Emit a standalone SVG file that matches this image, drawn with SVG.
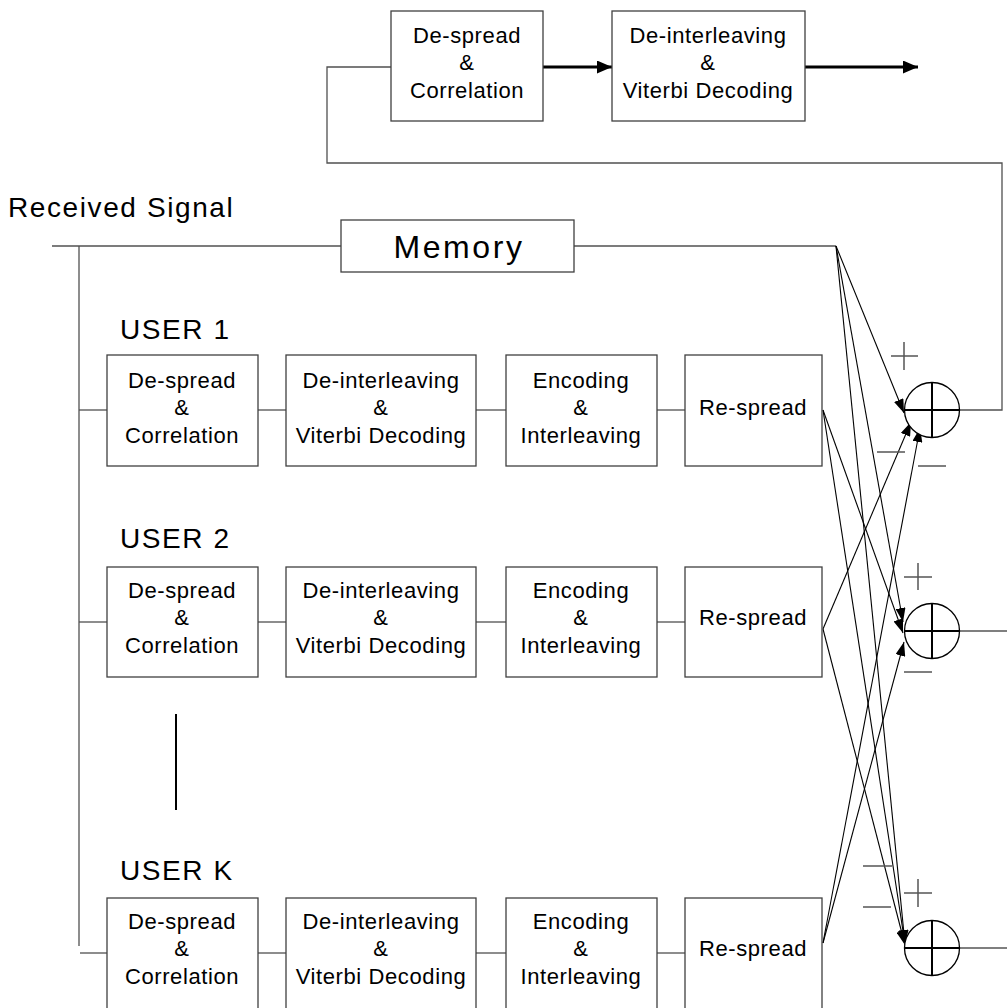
<svg xmlns="http://www.w3.org/2000/svg" width="1007" height="1008" viewBox="0 0 1007 1008">
  <style>
    .box { fill: #ffffff; stroke: #404040; stroke-width: 1.3; }
    .lbl { font-family: "Liberation Sans", Arial, sans-serif; font-size: 22px; fill: #000; text-anchor: middle; letter-spacing: 0.6px; }
    .big { font-family: "Liberation Sans", Arial, sans-serif; font-size: 28px; fill: #000; letter-spacing: 1.6px; }
    .mem { font-family: "Liberation Sans", Arial, sans-serif; font-size: 32px; fill: #000; letter-spacing: 2.6px; text-anchor: middle; }
    .wire { fill: none; stroke: #505050; stroke-width: 1.3; }
    .thin { fill: none; stroke: #000; stroke-width: 1.1; }
    .thick { fill: none; stroke: #000; stroke-width: 3; }
    .sign { fill: none; stroke: #555; stroke-width: 1.5; }
    .sum { fill: #ffffff; stroke: #000; stroke-width: 1.3; }
    .cross { stroke: #000; stroke-width: 2; }
  </style>
  <defs>
    <marker id="ah" markerUnits="userSpaceOnUse" markerWidth="14" markerHeight="10" refX="14" refY="5" orient="auto">
      <path d="M0,0 L14,5 L0,10 z" fill="#000"/>
    </marker>
    <marker id="ahBig" markerUnits="userSpaceOnUse" markerWidth="15" markerHeight="13" refX="15" refY="6.5" orient="auto">
      <path d="M0,0 L15,6.5 L0,13 z" fill="#000"/>
    </marker>
  </defs>

  <rect width="1007" height="1008" fill="#ffffff"/>

  <!-- free labels -->
  <text class="big" x="8" y="217">Received Signal</text>
  <text class="big" x="120" y="339">USER 1</text>
  <text class="big" x="120" y="548">USER 2</text>
  <text class="big" x="120" y="880">USER K</text>

  <!-- connectors -->
  <g id="connectors">
    <!-- input bus -->
    <line class="wire" x1="52" y1="246" x2="341" y2="246"/>
    <line class="wire" x1="574" y1="246" x2="836" y2="246"/>
    <line class="wire" x1="79" y1="246" x2="79" y2="946"/>
    <!-- row 1 chain -->
    <line class="wire" x1="79" y1="410" x2="107" y2="410"/>
    <line class="wire" x1="258" y1="410" x2="286" y2="410"/>
    <line class="wire" x1="476" y1="410" x2="506" y2="410"/>
    <line class="wire" x1="657" y1="410" x2="685" y2="410"/>
    <!-- row 2 chain -->
    <line class="wire" x1="79" y1="622" x2="107" y2="622"/>
    <line class="wire" x1="258" y1="622" x2="286" y2="622"/>
    <line class="wire" x1="476" y1="622" x2="506" y2="622"/>
    <line class="wire" x1="657" y1="622" x2="685" y2="622"/>
    <!-- row K chain -->
    <line class="wire" x1="80" y1="953" x2="107" y2="953"/>
    <line class="wire" x1="258" y1="953" x2="286" y2="953"/>
    <line class="wire" x1="476" y1="953" x2="506" y2="953"/>
    <line class="wire" x1="657" y1="953" x2="685" y2="953"/>
    <!-- user ellipsis -->
    <line x1="176" y1="714" x2="176" y2="810" stroke="#000" stroke-width="2"/>
    <!-- feedback from first summer to final stage -->
    <polyline class="wire" points="959,410 1002,410 1002,163 327,163 327,67 391,67"/>
    <!-- final stage -->
    <line class="thick" x1="543" y1="67" x2="612" y2="67" marker-end="url(#ahBig)"/>
    <line class="thick" x1="805" y1="67" x2="918" y2="67" marker-end="url(#ahBig)"/>
    <!-- memory to summers -->
    <line class="thin" x1="836" y1="246" x2="904" y2="413" marker-end="url(#ah)"/>
    <line class="thin" x1="836" y1="246" x2="903" y2="622" marker-end="url(#ah)"/>
    <line class="thin" x1="836" y1="246" x2="905" y2="944" marker-end="url(#ah)"/>
    <!-- user 1 re-spread -->
    <line class="thin" x1="823" y1="410" x2="903" y2="633" marker-end="url(#ah)"/>
    <line class="thin" x1="823" y1="410" x2="905" y2="944" marker-end="url(#ah)"/>
    <!-- user 2 re-spread -->
    <line class="thin" x1="823" y1="629" x2="911" y2="422" marker-end="url(#ah)"/>
    <line class="thin" x1="823" y1="629" x2="905" y2="945" marker-end="url(#ah)"/>
    <!-- user K re-spread -->
    <line class="thin" x1="823" y1="943" x2="920" y2="428" marker-end="url(#ah)"/>
    <line class="thin" x1="823" y1="943" x2="904" y2="642" marker-end="url(#ah)"/>
    <!-- summer outputs -->
    <line class="thin" x1="959" y1="631" x2="1007" y2="631"/>
    <line class="thin" x1="959" y1="948" x2="1007" y2="948"/>
  </g>

  <!-- final stage blocks -->
  <g id="top-despread">
    <rect class="box" x="391" y="11" width="152" height="110"/>
    <text class="lbl" x="467" y="43">De-spread</text>
    <text class="lbl" x="467" y="70">&amp;</text>
    <text class="lbl" x="467" y="98">Correlation</text>
  </g>
  <g id="top-decoder">
    <rect class="box" x="612" y="11" width="193" height="110"/>
    <text class="lbl" x="708" y="43">De-interleaving</text>
    <text class="lbl" x="708" y="70">&amp;</text>
    <text class="lbl" x="708" y="98">Viterbi Decoding</text>
  </g>

  <g id="memory">
    <rect class="box" x="341" y="220" width="233" height="52"/>
    <text class="mem" x="459" y="258">Memory</text>
  </g>

  <!-- user 1 -->
  <g id="u1-despread">
    <rect class="box" x="107" y="355" width="151" height="111"/>
    <text class="lbl" x="182" y="388">De-spread</text>
    <text class="lbl" x="182" y="415">&amp;</text>
    <text class="lbl" x="182" y="443">Correlation</text>
  </g>
  <g id="u1-decoder">
    <rect class="box" x="286" y="355" width="190" height="111"/>
    <text class="lbl" x="381" y="388">De-interleaving</text>
    <text class="lbl" x="381" y="415">&amp;</text>
    <text class="lbl" x="381" y="443">Viterbi Decoding</text>
  </g>
  <g id="u1-encoder">
    <rect class="box" x="506" y="355" width="151" height="111"/>
    <text class="lbl" x="581" y="388">Encoding</text>
    <text class="lbl" x="581" y="415">&amp;</text>
    <text class="lbl" x="581" y="443">Interleaving</text>
  </g>
  <g id="u1-respread">
    <rect class="box" x="685" y="355" width="137" height="111"/>
    <text class="lbl" x="753" y="415">Re-spread</text>
  </g>

  <!-- user 2 -->
  <g id="u2-despread">
    <rect class="box" x="107" y="567" width="151" height="110"/>
    <text class="lbl" x="182" y="598">De-spread</text>
    <text class="lbl" x="182" y="625">&amp;</text>
    <text class="lbl" x="182" y="653">Correlation</text>
  </g>
  <g id="u2-decoder">
    <rect class="box" x="286" y="567" width="190" height="110"/>
    <text class="lbl" x="381" y="598">De-interleaving</text>
    <text class="lbl" x="381" y="625">&amp;</text>
    <text class="lbl" x="381" y="653">Viterbi Decoding</text>
  </g>
  <g id="u2-encoder">
    <rect class="box" x="506" y="567" width="151" height="110"/>
    <text class="lbl" x="581" y="598">Encoding</text>
    <text class="lbl" x="581" y="625">&amp;</text>
    <text class="lbl" x="581" y="653">Interleaving</text>
  </g>
  <g id="u2-respread">
    <rect class="box" x="685" y="567" width="137" height="110"/>
    <text class="lbl" x="753" y="625">Re-spread</text>
  </g>

  <!-- user K -->
  <g id="uk-despread">
    <rect class="box" x="107" y="898" width="151" height="120"/>
    <text class="lbl" x="182" y="929">De-spread</text>
    <text class="lbl" x="182" y="956">&amp;</text>
    <text class="lbl" x="182" y="984">Correlation</text>
  </g>
  <g id="uk-decoder">
    <rect class="box" x="286" y="898" width="190" height="120"/>
    <text class="lbl" x="381" y="929">De-interleaving</text>
    <text class="lbl" x="381" y="956">&amp;</text>
    <text class="lbl" x="381" y="984">Viterbi Decoding</text>
  </g>
  <g id="uk-encoder">
    <rect class="box" x="506" y="898" width="151" height="120"/>
    <text class="lbl" x="581" y="929">Encoding</text>
    <text class="lbl" x="581" y="956">&amp;</text>
    <text class="lbl" x="581" y="984">Interleaving</text>
  </g>
  <g id="uk-respread">
    <rect class="box" x="685" y="898" width="137" height="120"/>
    <text class="lbl" x="753" y="956">Re-spread</text>
  </g>

  <!-- summing junctions -->
  <g id="sum1">
    <circle class="sum" cx="932" cy="410" r="27.5"/>
    <line class="cross" x1="904.5" y1="410" x2="959.5" y2="410"/>
    <line class="cross" x1="932" y1="382.5" x2="932" y2="437.5"/>
    <path class="sign" d="M891,356 H918 M904,342 V370 M877,452 H905 M918,466 H946"/>
  </g>
  <g id="sum2">
    <circle class="sum" cx="932" cy="631" r="27.5"/>
    <line class="cross" x1="904.5" y1="631" x2="959.5" y2="631"/>
    <line class="cross" x1="932" y1="603.5" x2="932" y2="658.5"/>
    <path class="sign" d="M904,577 H932 M918,563 V590 M904,672 H932"/>
  </g>
  <g id="sum3">
    <circle class="sum" cx="932" cy="948" r="27.5"/>
    <line class="cross" x1="904.5" y1="948" x2="959.5" y2="948"/>
    <line class="cross" x1="932" y1="920.5" x2="932" y2="975.5"/>
    <path class="sign" d="M863,866 H892 M863,907 H891 M904,893 H932 M918,879 V907"/>
  </g>
</svg>
